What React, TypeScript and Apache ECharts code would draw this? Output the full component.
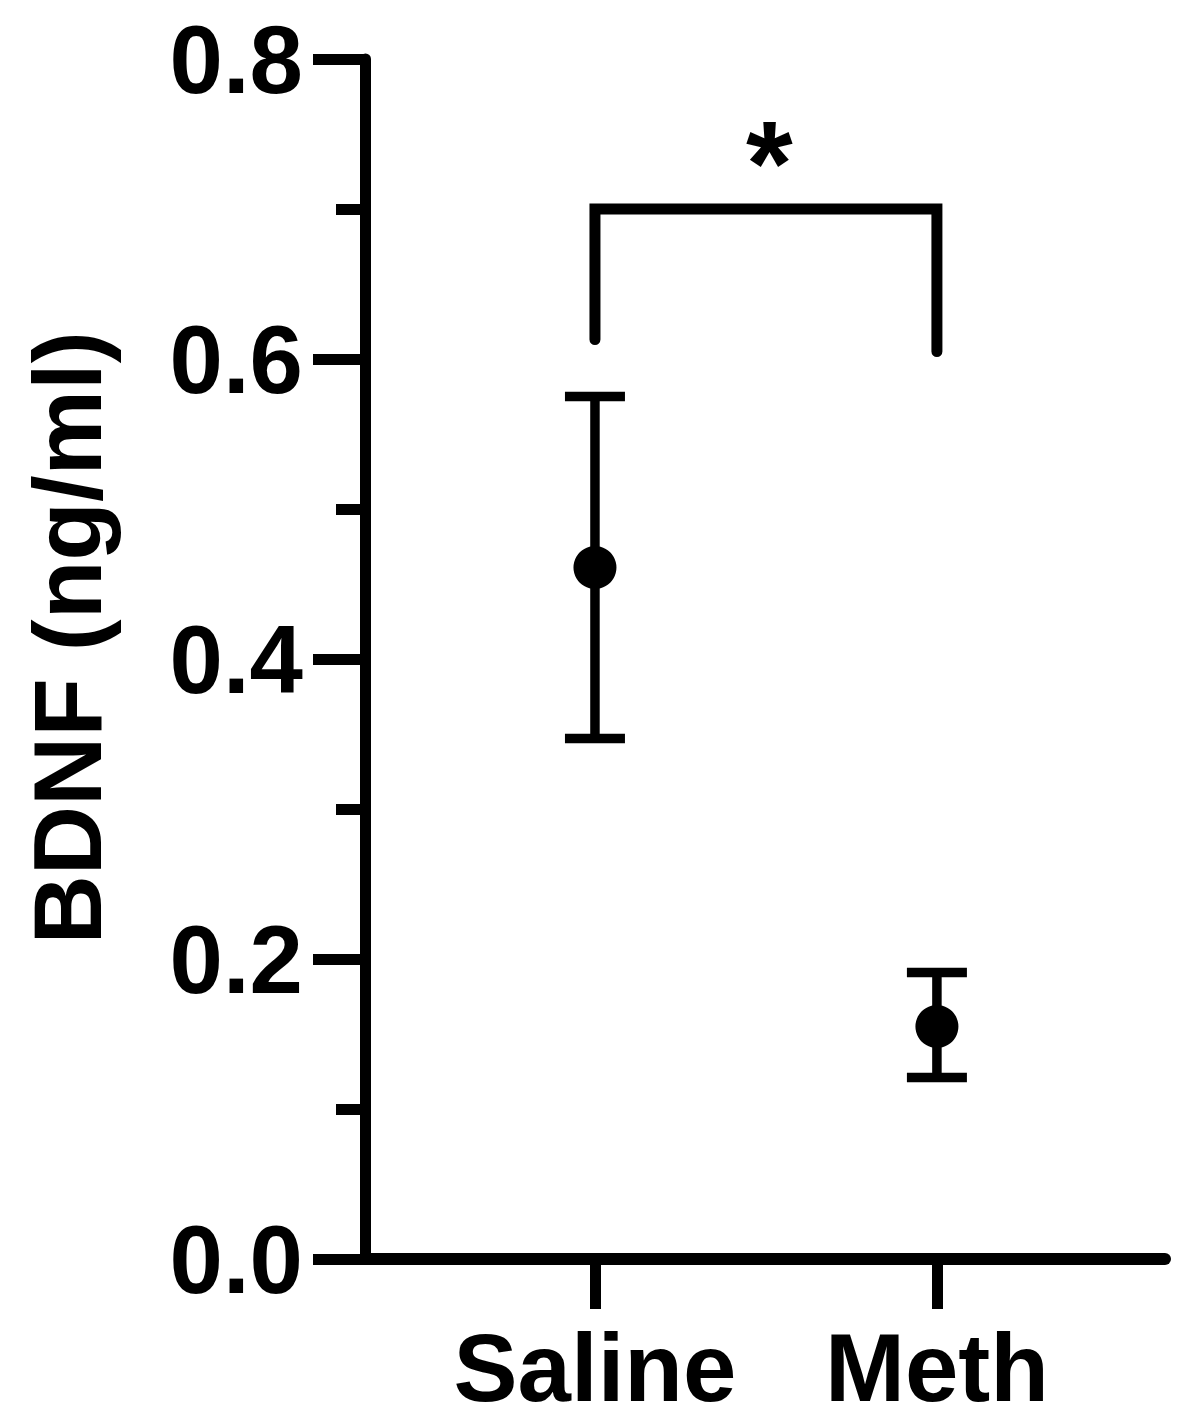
import React, { useEffect, useRef } from "react";
import * as echarts from "echarts";

const categories = ["Saline", "Meth"];
const categoryX = [1, 2];
const means = [0.461, 0.155];
const upperErr = [0.575, 0.191];
const lowerErr = [0.347, 0.121];
const yTickLabels = ["0.0", "0.2", "0.4", "0.6", "0.8"];
// significance bracket: [x, y] for left foot, top-left, top-right, right foot
const bracketX = [1, 1, 2, 2];
const bracketY = [0.613, 0.7, 0.7, 0.605];
const starLabel = "*";
const starPos = [1.51, 0.731];

const FONT = "'Liberation Sans', Arial, Helvetica, sans-serif";

export default function App() {
  const ref = useRef<HTMLDivElement>(null);
  useEffect(() => {
    if (!ref.current) return;
    const chart = echarts.init(ref.current, null, { renderer: "svg" });
    const option: any = {
      animation: false,
      backgroundColor: "#ffffff",
      grid: { left: 365, right: 21, top: 59, bottom: 165, containLabel: false },
      xAxis: {
        type: "value",
        min: 0.3275,
        max: 2.667,
        splitLine: { show: false },
        axisLine: { show: true, onZero: false, lineStyle: { color: "#000", width: 12 } },
        axisTick: {
          show: true,
          customValues: categoryX,
          length: 50,
          lineStyle: { color: "#000", width: 11 },
        },
        axisLabel: {
          show: true,
          customValues: categoryX,
          margin: 74,
          lineHeight: 68,
          color: "#000",
          fontFamily: FONT,
          fontWeight: "bold",
          fontSize: 96,
          formatter: (v: number) => {
            const i = categoryX.indexOf(Math.round(v));
            return i >= 0 ? categories[i] : "";
          },
        },
      },
      yAxis: {
        type: "value",
        min: 0,
        max: 0.8,
        interval: 0.2,
        name: "BDNF (ng/ml)",
        nameLocation: "middle",
        nameRotate: 90,
        nameGap: 250,
        nameTextStyle: {
          color: "#000",
          fontFamily: FONT,
          fontWeight: "bold",
          fontSize: 96,
          padding: [0, 0, 0, 42],
        },
        splitLine: { show: false },
        axisLine: { show: true, lineStyle: { color: "#000", width: 11 } },
        axisTick: { show: true, length: 52, lineStyle: { color: "#000", width: 11 } },
        minorTick: { show: true, splitNumber: 2, length: 29, lineStyle: { color: "#000", width: 11 } },
        minorSplitLine: { show: false },
        axisLabel: {
          margin: 62,
          color: "#000",
          fontFamily: FONT,
          fontWeight: "bold",
          fontSize: 96,
          formatter: (v: number) => yTickLabels[Math.round(v / 0.2)] ?? "",
        },
      },
      series: [
        {
          type: "custom",
          name: "error",
          data: categoryX.map((x, i) => [x, lowerErr[i], upperErr[i]]),
          renderItem: (params: any, api: any) => {
            const x = api.value(0);
            const lo = api.coord([x, api.value(1)]);
            const hi = api.coord([x, api.value(2)]);
            const half = 30;
            const style = { stroke: "#000", lineWidth: 9.5 };
            return {
              type: "group",
              children: [
                { type: "line", shape: { x1: lo[0], y1: lo[1], x2: hi[0], y2: hi[1] }, style },
                { type: "line", shape: { x1: hi[0] - half, y1: hi[1], x2: hi[0] + half, y2: hi[1] }, style },
                { type: "line", shape: { x1: lo[0] - half, y1: lo[1], x2: lo[0] + half, y2: lo[1] }, style },
              ],
            };
          },
          z: 3,
        },
        {
          type: "scatter",
          name: "mean",
          data: categoryX.map((x, i) => [x, means[i]]),
          symbol: "circle",
          symbolSize: 43,
          itemStyle: { color: "#000", opacity: 1 },
          z: 4,
        },
        {
          type: "line",
          name: "bracket",
          data: bracketX.map((x, i) => [x, bracketY[i]]),
          showSymbol: false,
          symbol: "none",
          lineStyle: { color: "#000", width: 11, cap: "round", join: "miter" },
          z: 3,
        },
        {
          type: "scatter",
          name: "star",
          data: [starPos],
          symbolSize: 0,
          itemStyle: { opacity: 1, color: "#000" },
          label: {
            show: true,
            position: "inside",
            formatter: starLabel,
            color: "#000",
            opacity: 1,
            fontFamily: FONT,
            fontWeight: "bold",
            fontSize: 120,
          },
          z: 5,
        },
      ],
    };
    chart.setOption(option);
    return () => chart.dispose();
  }, []);
  return (
    <div
      ref={ref}
      style={{ position: "absolute", left: 0, top: 0, width: 1186, height: 1424 }}
    />
  );
}
